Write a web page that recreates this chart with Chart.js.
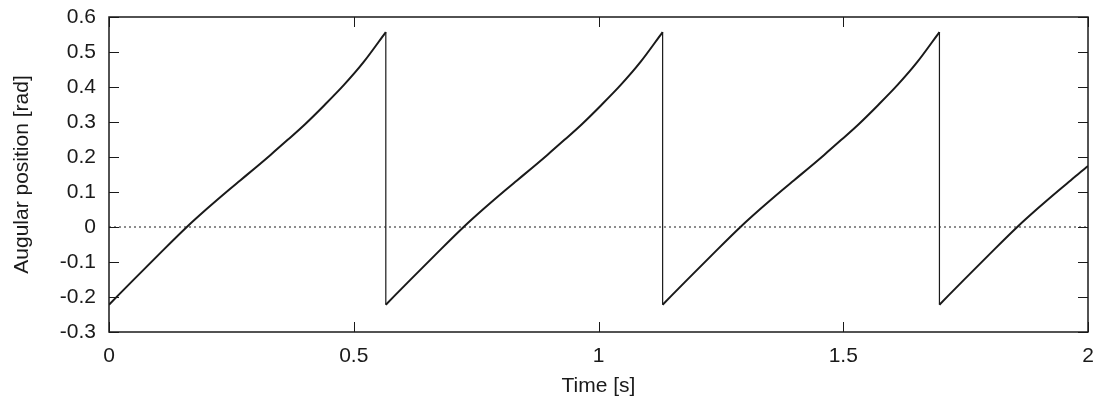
<!DOCTYPE html>
<html>
<head>
<meta charset="utf-8">
<script src="https://cdn.jsdelivr.net/npm/chart.js@4.4.1/dist/chart.umd.min.js"></script>
<style>
  html, body { margin: 0; padding: 0; background: #fff; }
  #wrap { width: 1103px; height: 403px; }
</style>
</head>
<body>
<div id="wrap"><canvas id="chart"></canvas></div>
<script>
// values, one array per swing
const time1  = [0, 0.05, 0.1, 0.159, 0.2, 0.244, 0.268, 0.298, 0.33, 0.365, 0.40, 0.44, 0.48, 0.52, 0.5655];
const time2  = [0.5655, 0.6155, 0.6655, 0.7245, 0.7655, 0.8095, 0.8335, 0.8635, 0.8955, 0.9305, 0.9655, 1.0055, 1.0455, 1.0855, 1.131];
const time3  = [1.131, 1.181, 1.231, 1.29, 1.331, 1.375, 1.399, 1.429, 1.461, 1.496, 1.531, 1.571, 1.611, 1.651, 1.6965];
const time4  = [1.6965, 1.7465, 1.7965, 1.8555, 1.8965, 1.9405, 1.9645, 1.9945, 2.0];
const angle1 = [-0.222, -0.151, -0.081, 0, 0.052, 0.105, 0.133, 0.168, 0.206, 0.249, 0.293, 0.348, 0.406, 0.471, 0.557];
const angle2 = [-0.222, -0.151, -0.081, 0, 0.052, 0.105, 0.133, 0.168, 0.206, 0.249, 0.293, 0.348, 0.406, 0.471, 0.557];
const angle3 = [-0.222, -0.151, -0.081, 0, 0.052, 0.105, 0.133, 0.168, 0.206, 0.249, 0.293, 0.348, 0.406, 0.471, 0.557];
const angle4 = [-0.222, -0.151, -0.081, 0, 0.052, 0.105, 0.133, 0.168, 0.174];

// the resets
const dropTime = [0.5655, 1.131, 1.6965];
const dropTop = 0.557;
const dropBottom = -0.222;

const xTicks = [0, 0.5, 1, 1.5, 2];
const yTicks = [-0.3, -0.2, -0.1, 0, 0.1, 0.2, 0.3, 0.4, 0.5, 0.6];

const FONT = "'Liberation Sans', Arial, Helvetica, sans-serif";
const INK = '#1a1a1a';

const toPoints = (xs, ys) => xs.map((x, i) => ({ x: x, y: ys[i] }));

const curve = (xs, ys) => ({
  data: toPoints(xs, ys),
  borderColor: INK,
  borderWidth: 2,
  pointRadius: 0,
  cubicInterpolationMode: 'monotone',
  fill: false
});

const drops = dropTime.map(t => ({
  data: [{ x: t, y: dropTop }, { x: t, y: dropBottom }],
  borderColor: INK,
  borderWidth: 1.2,
  pointRadius: 0,
  tension: 0,
  fill: false
}));

const zeroLine = {
  data: [{ x: xTicks[0], y: 0 }, { x: xTicks[xTicks.length - 1], y: 0 }],
  borderColor: INK,
  borderWidth: 1,
  borderDash: [2, 3],
  pointRadius: 0,
  fill: false
};

// frame + inward ticks on all four sides, gnuplot style
const framePlugin = {
  id: 'frame',
  afterDraw(chart) {
    const { ctx, chartArea: a, scales } = chart;
    const len = 10;
    ctx.save();
    ctx.strokeStyle = INK;
    ctx.lineWidth = 1;
    ctx.beginPath();
    xTicks.forEach(v => {
      const px = Math.round(scales.x.getPixelForValue(v)) + 0.5;
      ctx.moveTo(px, a.bottom); ctx.lineTo(px, a.bottom - len);
      ctx.moveTo(px, a.top); ctx.lineTo(px, a.top + len);
    });
    yTicks.forEach(v => {
      const py = Math.round(scales.y.getPixelForValue(v)) + 0.5;
      ctx.moveTo(a.left, py); ctx.lineTo(a.left + len, py);
      ctx.moveTo(a.right, py); ctx.lineTo(a.right - len, py);
    });
    ctx.stroke();
    ctx.lineWidth = 1.5;
    ctx.strokeRect(a.left, a.top, a.right - a.left, a.bottom - a.top);
    ctx.restore();
  }
};

new Chart(document.getElementById('chart'), {
  type: 'scatter',
  data: {
    datasets: [
      zeroLine,
      curve(time1, angle1),
      curve(time2, angle2),
      curve(time3, angle3),
      curve(time4, angle4),
      ...drops
    ]
  },
  options: {
    responsive: true,
    maintainAspectRatio: false,
    animation: false,
    showLine: true,
    layout: { padding: { top: 17, right: 15, left: 0, bottom: 0 } },
    plugins: {
      legend: { display: false },
      tooltip: { enabled: false }
    },
    scales: {
      x: {
        type: 'linear',
        min: 0,
        max: 2,
        afterFit: s => { s.height = 71; s.paddingLeft = 0; s.paddingRight = 0; },
        afterBuildTicks: s => { s.ticks = xTicks.map(v => ({ value: v })); },
        grid: { display: false, drawTicks: false },
        border: { display: false },
        ticks: {
          padding: 12,
          color: INK,
          font: { family: FONT, size: 21 },
          maxRotation: 0,
          callback: v => String(v)
        },
        title: {
          display: true,
          text: 'Time [s]',
          color: INK,
          font: { family: FONT, size: 21 },
          padding: { top: 6, bottom: 4 }
        }
      },
      y: {
        type: 'linear',
        min: -0.3,
        max: 0.6,
        afterFit: s => { s.width = 109; s.paddingTop = 0; s.paddingBottom = 0; },
        afterBuildTicks: s => { s.ticks = yTicks.map(v => ({ value: v })); },
        grid: { display: false, drawTicks: false },
        border: { display: false },
        ticks: {
          padding: 13,
          color: INK,
          font: { family: FONT, size: 21 },
          callback: v => (Math.abs(v) < 1e-9 ? '0' : v.toFixed(1))
        },
        title: {
          display: true,
          text: 'Augular position [rad]',
          color: INK,
          font: { family: FONT, size: 21 },
          padding: { top: 10, bottom: 4 }
        }
      }
    }
  },
  plugins: [framePlugin]
});
</script>
</body>
</html>
